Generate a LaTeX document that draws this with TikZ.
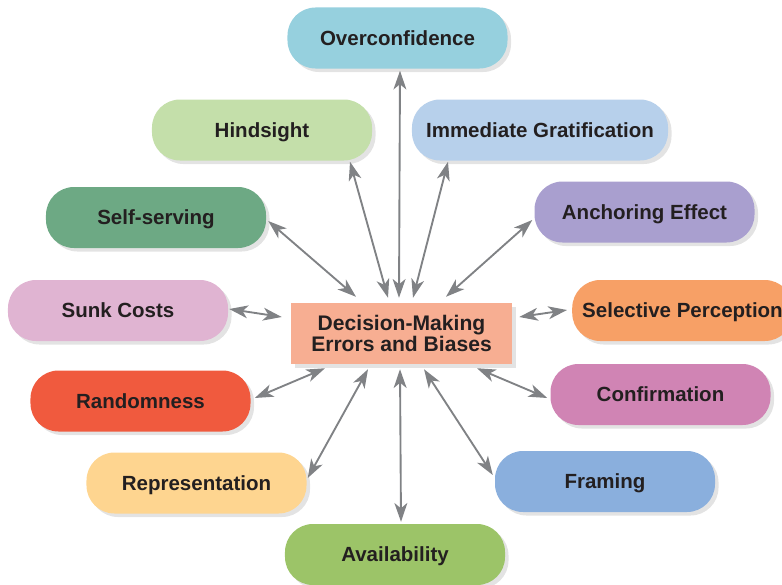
\documentclass[tikz,border=0pt]{standalone}
\usepackage{fontspec}
\setmainfont{Liberation Sans}
\usetikzlibrary{arrows.meta}
\usetikzlibrary{calc}
\usetikzlibrary{shadows}

\definecolor{txtgray}{HTML}{231F20}
\definecolor{linkgray}{HTML}{808285}
\definecolor{overblue}{HTML}{96D0DE}
\definecolor{hindgreen}{HTML}{C4DFAA}
\definecolor{gratblue}{HTML}{B7D0EB}
\definecolor{servgreen}{HTML}{6DA984}
\definecolor{anchlilac}{HTML}{A99FCF}
\definecolor{sunkpink}{HTML}{E0B4D2}
\definecolor{centsalmon}{HTML}{F7AE92}
\definecolor{percorange}{HTML}{F7A066}
\definecolor{randred}{HTML}{F05A3E}
\definecolor{confpink}{HTML}{D084B4}
\definecolor{repryellow}{HTML}{FED590}
\definecolor{framblue}{HTML}{8AAFDD}
\definecolor{availgreen}{HTML}{9CC468}

\tikzset{
  bias/.style={rounded corners=0.84cm, minimum width=6.6cm, minimum height=1.83cm,
    inner xsep=0.3cm, text height=12.5pt, text depth=0pt, text=txtgray,
    font=\fontsize{17.5}{21}\selectfont\bfseries,
    drop shadow={shadow xshift=3pt, shadow yshift=-3pt, opacity=0.22}},
  hub/.style={minimum width=6.63cm, minimum height=1.83cm, align=center,
    text=txtgray, font=\fontsize{18}{17.5}\selectfont\bfseries,
    drop shadow={shadow xshift=3pt, shadow yshift=-3pt, opacity=0.22}},
  link/.style={{Stealth[length=16pt,width=11pt,inset=4.5pt]}-{Stealth[length=16pt,width=11pt,inset=4.5pt]},
    line width=1.6pt, draw=linkgray},
}

\begin{document}
\begin{tikzpicture}[x=0.03cm, y=-0.03cm]

    \useasboundingbox (0,0) rectangle (782,584);

    %nodes
    \node[hub, fill=centsalmon] (dm) at (401.5,333.5) {Decision-Making\\Errors and Biases};
    \node[bias, fill=overblue] (oc) at (397.5,38) {Overconfidence};
    \node[bias, fill=hindgreen] (hs) at (262,130) {Hindsight};
    \node[bias, fill=gratblue, minimum width=7.68cm] (ig) at (540,130) {Immediate Gratification};
    \node[bias, fill=servgreen] (ss) at (156,217.5) {Self-serving};
    \node[bias, fill=anchlilac] (ae) at (644.5,212) {Anchoring Effect};
    \node[bias, fill=sunkpink] (sc) at (118,310.5) {Sunk Costs};
    \node[bias, fill=percorange] (sp) at (682.5,310.5) {Selective Perception};
    \node[bias, fill=randred] (rd) at (140.5,401) {Randomness};
    \node[bias, fill=confpink] (cf) at (660.5,394.5) {Confirmation};
    \node[bias, fill=repryellow] (rp) at (196.5,483) {Representation};
    \node[bias, fill=framblue] (fr) at (605,481.5) {Framing};
    \node[bias, fill=availgreen] (av) at (395,554.5) {Availability};

    % edges
    \draw[link] ($(dm.north)+(-2.5,-5)$) -- ($(oc.south)+(2.5,2)$);
    \draw[link] ($(dm.north)+(-13.5,-5)$) -- ($(hs.south)+(88,1)$);
    \draw[link] ($(dm.north)+(11.5,-5)$) -- ($(ig.south)+(-92,1)$);
    \draw[link] ($(dm.north)+(-45.5,-6)$) -- ($(ss.east)+(2,3.5)$);
    \draw[link] ($(dm.north)+(44.5,-6)$) -- ($(ae.west)+(-2,8)$);
    \draw[link] ($(dm.west)+(-9,-16.5)$) -- ($(sc.east)+(1,-1.5)$);
    \draw[link] ($(dm.east)+(7,-16.5)$) -- ($(sp.west)+(-5,-0.5)$);
    \draw[link] ($(dm.south)+(-76.5,4)$) -- ($(rd.east)+(4,-3)$);
    \draw[link] ($(dm.south)+(75.5,4)$) -- ($(cf.west)+(-3,3.5)$);
    \draw[link] ($(dm.south)+(-33.5,5)$) -- ($(rp.east)+(1,-5)$);
    \draw[link] ($(dm.south)+(22.5,5)$) -- ($(fr.west)+(-2,-6.5)$);
    \draw[link] ($(dm.south)+(-1.5,5)$) -- ($(av.north)+(6,-2)$);

\end{tikzpicture}
\end{document}
